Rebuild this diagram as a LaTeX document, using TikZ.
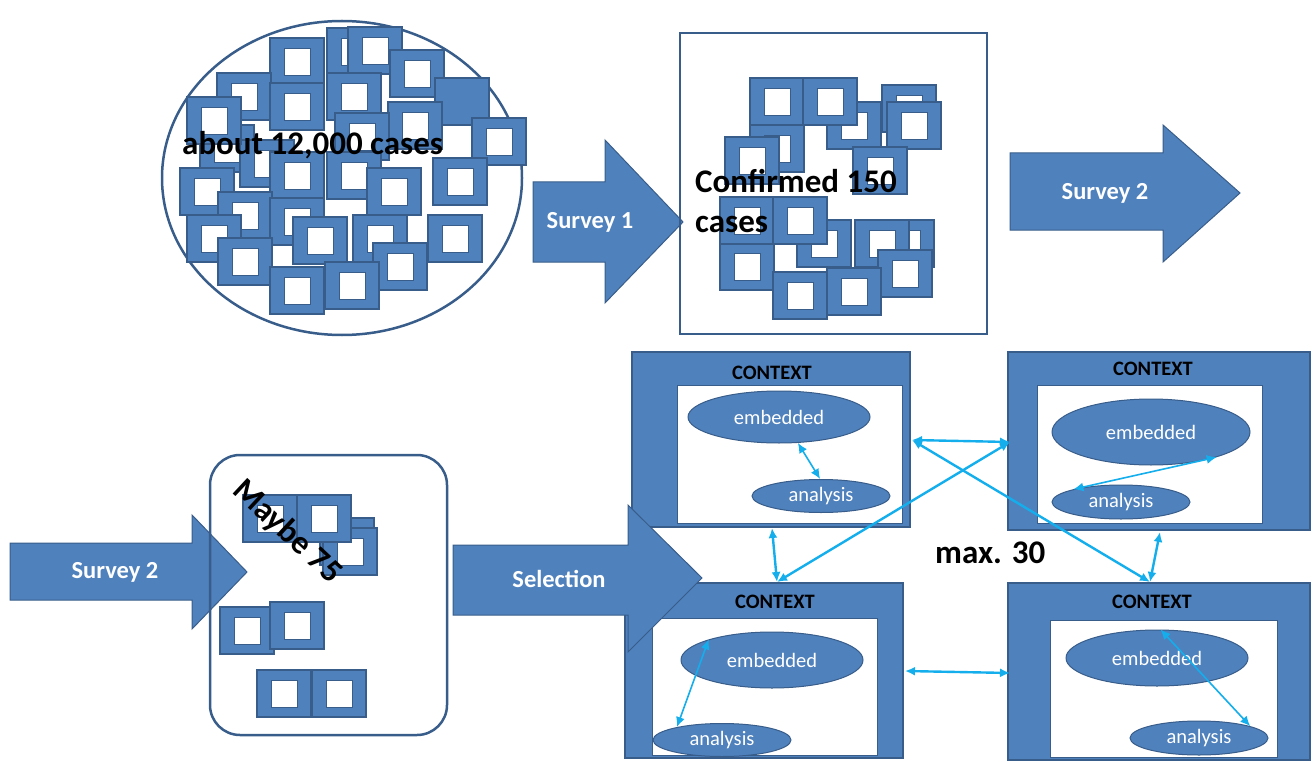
\documentclass[tikz,border=0pt]{standalone}
\usepackage{fontspec}
\setmainfont{Carlito}
\usetikzlibrary{arrows.meta,shapes.geometric}
\definecolor{blu}{HTML}{4F81BD}
\definecolor{dblu}{HTML}{385D8A}
\definecolor{cyn}{HTML}{14AEEC}
\tikzset{
  sqframe/.style={fill=blu,draw=dblu,line width=1.2pt},
  sqhole/.style={fill=white,draw=dblu,line width=0.8pt},
  outl/.style={draw=dblu,line width=2.5pt},
  bigarrow/.style={fill=blu,draw=dblu,line width=1pt},
  arrowtext/.style={text=white,font=\bfseries\fontsize{24.5}{29}\selectfont,inner sep=0pt},
  bigtext/.style={font=\bfseries\fontsize{33}{40}\selectfont,inner sep=0pt},
  ctxbox/.style={fill=blu,draw=dblu,line width=1.2pt,anchor=north west,inner sep=0pt,outer sep=0pt},
  ctxin/.style={fill=white,draw=dblu,line width=0.8pt,anchor=north west,inner sep=0pt,outer sep=0pt},
  ctxlabel/.style={font=\bfseries\fontsize{20.5}{24}\selectfont,inner sep=0pt},
  ell/.style={ellipse,fill=blu,draw=dblu,line width=1pt,text=white,inner sep=0pt,font=\fontsize{20.5}{24}\selectfont},
  link/.style={draw=cyn,line width=2.4pt,{Latex[length=10pt,width=9pt]}-{Latex[length=10pt,width=9pt]}}
}
\newcommand\csq[2]{\path[sqframe] (#1,#2) rectangle +(54,47); \path[sqhole] (#1+14,#2+10) rectangle +(26,27);}
\newcommand\fsq[2]{\path[sqframe] (#1,#2) rectangle +(54,47);}
\begin{document}
\begin{tikzpicture}[x=1pt,y=-1pt]
\useasboundingbox (0,0) rectangle (1314,762);
% ---- population circle
\draw[outl,fill=white] (342,178) ellipse [x radius=180, y radius=157];
\csq{200}{125}\csq{240}{140}
\csq{327}{28}\csq{348}{27}\csq{270}{38}\csq{390}{50}\csq{217}{73}\csq{327}{73}
\fsq{435}{78}
\csq{270}{83}\csq{187}{97}\csq{388}{102}\csq{335}{113}\csq{472}{118}
\csq{270}{152}\csq{327}{152}\csq{433}{158}\csq{180}{168}\csq{367}{168}
\csq{218}{192}\csq{270}{198}\csq{187}{215}\csq{293}{217}\csq{353}{215}\csq{428}{215}
\csq{218}{238}\csq{373}{243}\csq{270}{267}\csq{325}{262}
\node[bigtext,anchor=base west] (t12k) at (182,155) {about 12,000 cases};
% ---- survey 1 arrow
\path[bigarrow] (533,182) -- (605,182) -- (605,140) -- (683,222) -- (605,303) -- (605,262) -- (533,262) -- cycle;
\node[arrowtext] (s1) at (590,222) {Survey 1};
% ---- confirmed box
\draw[outl] (680,33) rectangle (987,334);
\csq{882}{85}\csq{750}{125}\csq{827}{102}\csq{887}{102}\csq{750}{78}\csq{803}{78}
\csq{725}{137}\csq{853}{147}\csq{880}{220}\csq{855}{220}\csq{797}{220}\csq{878}{250}
\csq{720}{243}\csq{720}{197}\csq{773}{197}\csq{773}{272}\csq{827}{268}
\node[bigtext,anchor=base west] (c150a) at (695,193) {Confirmed 150};
\node[bigtext,anchor=base west] (c150b) at (695,233) {cases};
% ---- survey 2 arrow (top)
\path[bigarrow] (1010,153) -- (1163,153) -- (1163,125) -- (1240,193) -- (1163,262) -- (1163,230) -- (1010,230) -- cycle;
\node[arrowtext] (s2a) at (1105,193) {Survey 2};
% ---- survey 2 arrow (bottom)
\path[bigarrow] (10,543) -- (192,543) -- (192,515) -- (247,572) -- (192,629) -- (192,600) -- (10,600) -- cycle;
\node[arrowtext] (s2b) at (115,572) {Survey 2};
% ---- maybe 75 box
\csq{320}{518}\csq{323}{528}\csq{243}{495}\csq{297}{495}
\csq{220}{607}\csq{270}{602}\csq{257}{670}\csq{312}{670}
\draw[outl,rounded corners=30pt] (210,455) rectangle (447,735);
\node[bigtext,rotate=-43] (maybe) at (287,532) {Maybe 75};
% ---- context boxes
\node[ctxbox,minimum width=278,minimum height=175] (tl) at (632,352) {};
\node[ctxin,minimum width=225,minimum height=138] (tli) at (677,385) {};
\node[ctxlabel] (tlc) at (772,373) {CONTEXT};
\node[ell,minimum width=182,minimum height=52] (e1) at (779,417) {embedded};
\node[ell,minimum width=138,minimum height=33] (a1) at (821,496) {analysis};

\node[ctxbox,minimum width=302,minimum height=178] (tr) at (1008,352) {};
\node[ctxin,minimum width=225,minimum height=138] (tri) at (1037,385) {};
\node[ctxlabel] (trc) at (1153,369) {CONTEXT};
\node[ell,minimum width=198,minimum height=66] (e2) at (1151,432) {embedded};
\node[ell,minimum width=138,minimum height=34] (a2) at (1121,502) {analysis};

\node[ctxbox,minimum width=278,minimum height=175] (bl) at (625,583) {};
\node[ctxin,minimum width=225,minimum height=137] (bli) at (652,618) {};
\node[ctxlabel] (blc) at (775,602) {CONTEXT};
\node[ell,minimum width=182,minimum height=56] (e3) at (772,660) {embedded};
\node[ell,minimum width=138,minimum height=33] (a3) at (722,740) {analysis};

\node[ctxbox,minimum width=302,minimum height=177] (br) at (1008,583) {};
\node[ctxin,minimum width=227,minimum height=137] (bri) at (1050,620) {};
\node[ctxlabel] (brc) at (1152,602) {CONTEXT};
\node[ell,minimum width=182,minimum height=56] (e4) at (1157,658) {embedded};
\node[ell,minimum width=138,minimum height=34] (a4) at (1199,738) {analysis};

\draw[link,line width=1.6pt] (e1.-54) -- (a1.93);
\draw[link,line width=1.6pt] (e2.-21) -- (a2.165);
\draw[link,line width=1.6pt] (e3.162) -- (a3.164);
\draw[link,line width=1.6pt] (e4.83) -- (a4.13);
% ---- selection arrow
\path[bigarrow] (453,545) -- (628,545) -- (628,505) -- (702,578) -- (628,652) -- (628,615) -- (453,615) -- cycle;
\node[arrowtext] (sel) at (559,579) {Selection};
% ---- links between contexts
\coordinate (tlR) at (912,440);
\coordinate (trL) at (1010,442);
\coordinate (brT) at (1150,582);
\coordinate (blT) at (777,582);
\coordinate (tlB) at (772,528);
\coordinate (trB) at (1160,532);
\coordinate (blR) at (905,671);
\coordinate (brL) at (1010,673);
\draw[link] (tlR) -- (trL);
\draw[link] (tlR) -- (brT);
\draw[link] (trL) -- (blT);
\draw[link] (tlB) -- (blT);
\draw[link] (trB) -- (brT);
\draw[link] (blR) -- (brL);
\node[bigtext,anchor=base west] (max) at (935,563) {max. 30};
\end{tikzpicture}
\end{document}
